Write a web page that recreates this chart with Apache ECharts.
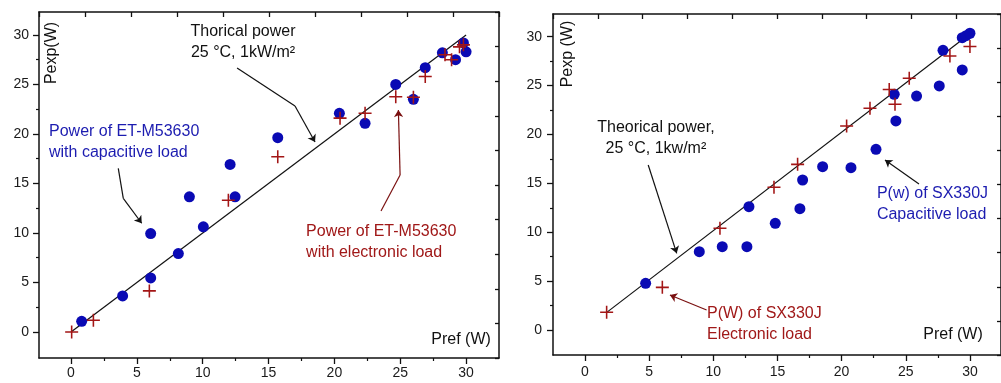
<!DOCTYPE html>
<html><head><meta charset="utf-8">
<script src="https://cdn.jsdelivr.net/npm/echarts@6/dist/echarts.min.js"></script>
<style>html,body{margin:0;padding:0;background:#fff}#c{width:1001px;height:383px}</style>
</head><body><div id="c"></div>
<script>
// ---------- DATA ----------
const tickLabels = [0, 5, 10, 15, 20, 25, 30];
const minorTicks = [2.5, 7.5, 12.5, 17.5, 22.5, 27.5];

// Left panel: ET-M53630
const leftCapX = [0.81, 3.92, 6.05, 6.05, 8.15, 8.99, 10.05, 12.08, 12.46, 15.70, 20.38, 22.33, 24.66, 26.0, 26.9, 28.2, 29.2, 29.8, 30.0];
const leftCapY = [1.08, 3.64, 9.94, 5.46, 7.92, 13.65, 10.62, 16.92, 13.65, 19.62, 22.08, 21.07, 25.0, 23.5, 26.7, 28.2, 27.5, 29.2, 28.3];
const leftEleX = [0.05, 1.70, 5.95, 11.95, 15.70, 20.43, 22.33, 24.66, 26.0, 26.9, 28.4, 28.9, 29.5, 29.8];
const leftEleY = [0.0, 1.18, 4.15, 13.31, 17.69, 21.6, 22.1, 23.76, 23.7, 25.8, 28.0, 27.5, 28.8, 29.0];
const leftTheoX = [0, 30];
const leftTheoY = [0, 30];

// Right panel: SX330J
const rightCapX = [4.73, 8.91, 10.70, 12.62, 12.78, 14.83, 16.75, 16.96, 18.52, 20.73, 22.68, 24.10, 24.23, 25.84, 27.61, 27.9, 29.4, 29.4, 29.7, 30.0];
const rightCapY = [4.77, 8.01, 8.52, 8.52, 12.61, 10.91, 12.41, 15.34, 16.70, 16.60, 18.48, 24.1, 21.38, 23.93, 24.96, 28.6, 26.6, 29.9, 30.1, 30.35];
const rightEleX = [1.69, 6.03, 10.52, 14.73, 16.57, 20.39, 22.21, 23.71, 24.16, 25.27, 28.44, 30.0];
const rightEleY = [1.81, 4.36, 10.40, 14.59, 16.94, 20.87, 22.67, 24.6, 23.08, 25.74, 28.03, 29.0];
const rightTheoX = [1.7, 30];
const rightTheoY = [1.8, 30.3];

// Annotation texts
const leftTheoText = 'Thorical power\n25 °C, 1kW/m²';
const leftCapText = 'Power of ET-M53630\nwith capacitive load';
const leftEleText = 'Power of ET-M53630\nwith electronic load';
const rightTheoText = 'Theorical power,\n25 °C, 1kw/m²';
const rightCapText = 'P(w) of SX330J\nCapacitive load';
const rightEleText = 'P(W) of SX330J\nElectronic load';
const leftYName = 'Pexp(W)';
const rightYName = 'Pexp (W)';
const xName = 'Pref (W)';

// ---------- BUILD ----------
const zip = (a, b) => a.map((v, i) => [v, b[i]]);
const FONT = 'Liberation Sans, Arial, sans-serif';
const BLUE = '#0a0ab4';
const RED = '#a31616';
const TEXTBLUE = '#1c1cb0';
const TEXTRED = '#a01818';
const AX = '#111';

const grids = [
  { left: 39, top: 12, width: 460, height: 346, xr: [-2.43, 32.5], yr: [-2.63, 32.32], xm: 8, ym: 10 },
  { left: 553, top: 14, width: 448, height: 341, xr: [-2.49, 32.42], yr: [-2.56, 32.32], xm: 10, ym: 11 }
];

const xAxes = [], yAxes = [];
grids.forEach((g, gi) => {
  const lab = { fontFamily: FONT, fontSize: 14, color: '#1a1a1a' };
  xAxes.push({
    gridIndex: gi, type: 'value', position: 'bottom', min: g.xr[0], max: g.xr[1],
    axisLine: { show: true, onZero: false, lineStyle: { color: AX, width: 1.5 } },
    axisTick: { show: true, inside: false, length: 6, customValues: tickLabels, lineStyle: { color: AX, width: 1.3 } },
    axisLabel: { show: true, customValues: tickLabels, margin: g.xm, ...lab },
    splitLine: { show: false }
  });
  xAxes.push({
    gridIndex: gi, type: 'value', position: 'bottom', min: g.xr[0], max: g.xr[1],
    axisLine: { show: false, onZero: false },
    axisTick: { show: true, length: 3, customValues: minorTicks, lineStyle: { color: AX, width: 1.2 } },
    axisLabel: { show: false }, splitLine: { show: false }
  });
  xAxes.push({
    gridIndex: gi, type: 'value', position: 'top', min: 0, max: 10, interval: 1,
    axisLine: { show: true, onZero: false, lineStyle: { color: AX, width: 1.5 } },
    axisTick: { show: true, inside: true, length: 5, lineStyle: { color: AX, width: 1.3 } },
    axisLabel: { show: false }, splitLine: { show: false }
  });
  yAxes.push({
    gridIndex: gi, type: 'value', position: 'left', min: g.yr[0], max: g.yr[1],
    axisLine: { show: true, onZero: false, lineStyle: { color: AX, width: 1.5 } },
    axisTick: { show: true, inside: false, length: 6, customValues: tickLabels, lineStyle: { color: AX, width: 1.3 } },
    axisLabel: { show: true, customValues: tickLabels, margin: g.ym, ...lab },
    splitLine: { show: false }
  });
  yAxes.push({
    gridIndex: gi, type: 'value', position: 'left', min: g.yr[0], max: g.yr[1],
    axisLine: { show: false, onZero: false },
    axisTick: { show: true, length: 3, customValues: minorTicks, lineStyle: { color: AX, width: 1.2 } },
    axisLabel: { show: false }, splitLine: { show: false }
  });
  yAxes.push({
    gridIndex: gi, type: 'value', position: 'right', min: 0, max: 10, interval: 1,
    axisLine: { show: true, onZero: false, lineStyle: { color: AX, width: 1.5 } },
    axisTick: { show: true, inside: true, length: 4, lineStyle: { color: AX, width: 1.3 } },
    axisLabel: { show: false }, splitLine: { show: false }
  });
});

const CROSS = 'path://M4.4,0H5.6V4.4H10V5.6H5.6V10H4.4V5.6H0V4.4H4.4Z';

function panelSeries(gi, theoX, theoY, capX, capY, eleX, eleY, arrows) {
  const xi = gi * 3, yi = gi * 3;
  const s = [
    { type: 'line', xAxisIndex: xi, yAxisIndex: yi, data: zip(theoX, theoY), symbol: 'none',
      lineStyle: { color: '#111', width: 1.2 }, z: 2, silent: true },
    { type: 'scatter', xAxisIndex: xi, yAxisIndex: yi, data: zip(capX, capY), symbol: 'circle', symbolSize: 11,
      itemStyle: { color: BLUE, opacity: 1 }, z: 3 },
    { type: 'scatter', xAxisIndex: xi, yAxisIndex: yi, data: zip(eleX, eleY), symbol: CROSS, symbolSize: 13,
      itemStyle: { color: RED, opacity: 1 }, z: 4 }
  ];
  arrows.forEach(a => {
    const segs = [];
    for (let i = 0; i < a.pts.length - 1; i++) segs.push([a.pts[i], a.pts[i + 1]]);
    const last = segs.pop();
    if (segs.length) {
      s.push({ type: 'lines', coordinateSystem: 'cartesian2d', xAxisIndex: xi, yAxisIndex: yi,
        symbol: 'none', silent: true, z: 5,
        lineStyle: { color: a.color, width: 1.2, opacity: 1, curveness: 0 },
        data: segs.map(c => ({ coords: c })) });
    }
    s.push({ type: 'lines', coordinateSystem: 'cartesian2d', xAxisIndex: xi, yAxisIndex: yi,
      symbol: ['none', 'arrow'], symbolSize: 7, silent: true, z: 5,
      lineStyle: { color: a.color, width: 1.2, opacity: 1, curveness: 0 },
      data: [{ coords: last }] });
  });
  return s;
}

// arrow paths in data coordinates of each panel
const leftArrows = [
  { color: '#111', pts: [[12.61, 26.67], [17.01, 22.83], [18.53, 19.19]] },
  { color: '#111', pts: [[3.59, 16.53], [3.97, 13.5], [5.37, 10.98]] },
  { color: '#7a1010', pts: [[23.54, 12.22], [24.99, 15.86], [24.86, 22.42]] }
];
const rightArrows = [
  { color: '#111', pts: [[4.93, 16.88], [7.15, 7.84]] },
  { color: '#111', pts: [[26.03, 14.93], [23.38, 17.39]] },
  { color: '#7a1010', pts: [[9.48, 2.05], [6.62, 3.58]] }
];

const series = [].concat(
  panelSeries(0, leftTheoX, leftTheoY, leftCapX, leftCapY, leftEleX, leftEleY, leftArrows),
  panelSeries(1, rightTheoX, rightTheoY, rightCapX, rightCapY, rightEleX, rightEleY, rightArrows)
);

const chart = echarts.init(document.getElementById('c'), null, { renderer: 'canvas' });
chart.setOption({
  backgroundColor: '#fff',
  animation: false,
  grid: grids.map(g => ({ left: g.left, top: g.top, width: g.width, height: g.height, containLabel: false })),
  xAxis: xAxes,
  yAxis: yAxes,
  series: series
});

// annotations anchored in data coordinates
const notes = [
  { gi: 0, at: [13.06, 31.36], text: leftTheoText, color: '#111', align: 'center', v: 'top' },
  { gi: 0, at: [-1.67, 21.31], text: leftCapText, color: TEXTBLUE, align: 'left', v: 'top' },
  { gi: 0, at: [17.85, 11.21], text: leftEleText, color: TEXTRED, align: 'left', v: 'top' },
  { gi: 0, at: [29.62, -0.81], text: xName, color: '#111', align: 'center', v: 'middle' },
  { gi: 0, at: [-1.44, 28.18], text: leftYName, color: '#111', align: 'center', v: 'middle', rot: true },
  { gi: 1, at: [5.53, 21.79], text: rightTheoText, color: '#111', align: 'center', v: 'top' },
  { gi: 1, at: [22.75, 15.04], text: rightCapText, color: TEXTBLUE, align: 'left', v: 'top' },
  { gi: 1, at: [9.51, 2.76], text: rightEleText, color: TEXTRED, align: 'left', v: 'top' },
  { gi: 1, at: [28.68, -0.51], text: xName, color: '#111', align: 'center', v: 'middle' },
  { gi: 1, at: [-1.32, 28.23], text: rightYName, color: '#111', align: 'center', v: 'middle', rot: true }
];
const graphics = notes.map(n => {
  const p = chart.convertToPixel({ xAxisIndex: n.gi * 3, yAxisIndex: n.gi * 3 }, n.at);
  return {
    type: 'text', x: p[0], y: p[1], rotation: n.rot ? Math.PI / 2 : 0, z: 10,
    style: { text: n.text, fill: n.color, font: '16px ' + FONT, align: n.align,
      verticalAlign: n.v, lineHeight: 21 }
  };
});
chart.setOption({ graphic: graphics });
</script>
</body></html>
